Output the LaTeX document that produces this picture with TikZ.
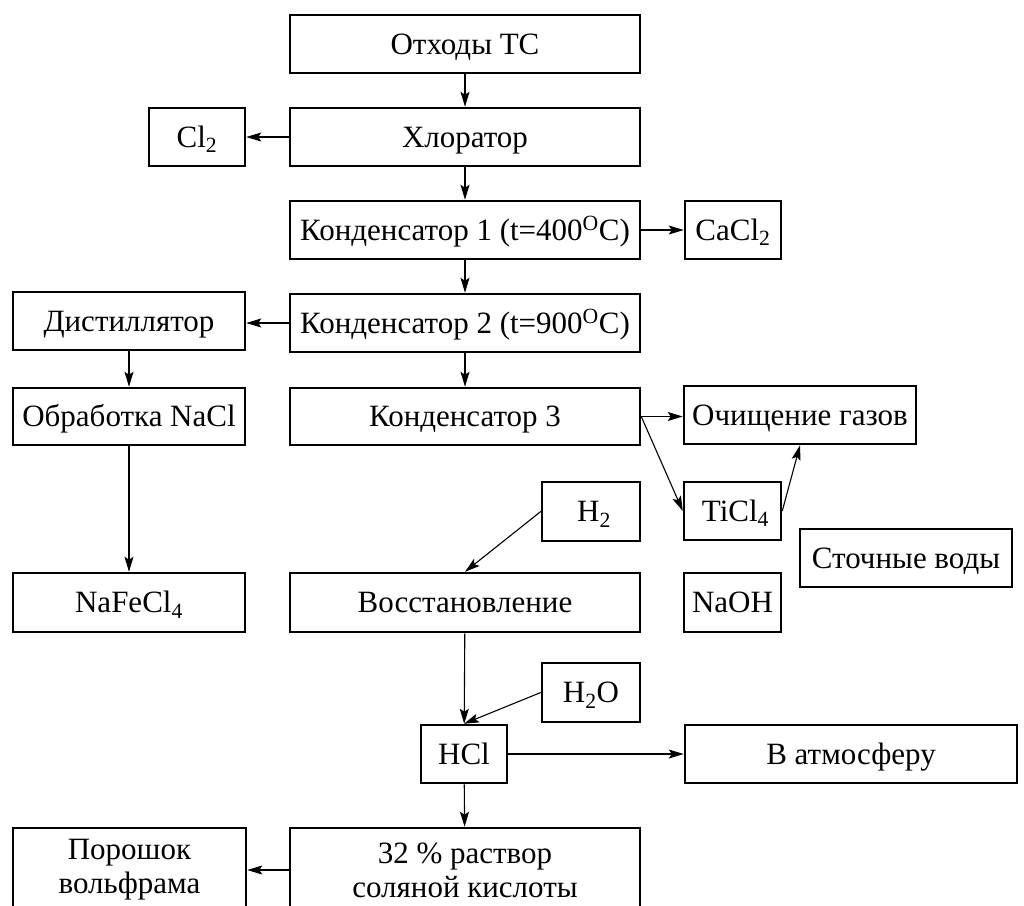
\documentclass[tikz,border=0pt]{standalone}
\usepackage{fontspec}
\setmainfont{Liberation Serif}
\usetikzlibrary{arrows.meta}
\begin{document}
\begin{tikzpicture}[x=1pt,y=-1pt,
  box/.style={draw, line width=2.5pt, inner sep=0pt, font=\fontsize{31}{34}\selectfont, align=center},
  one/.style={text height=20pt, text depth=0pt},
  arr/.style={-{Stealth[length=15pt,width=9pt,inset=3pt]}, line width=1.1pt}]
\useasboundingbox (0,0) rectangle (1024,905);
\node[box, one, minimum width=350, minimum height=58] (otx) at (465,44) {Отходы ТС};
\node[box, one, minimum width=350, minimum height=58] (chl) at (465,137) {Хлоратор};
\node[box, one, minimum width=96, minimum height=58] (cl2) at (197,137) {Cl\textsubscript{2}};
\node[box, one, minimum width=350, minimum height=58] (k1) at (465,230) {Конденсатор 1 (t=400\textsuperscript{O}C)};
\node[box, one, minimum width=96, minimum height=58] (cacl) at (733,230) {CaCl\textsubscript{2}};
\node[box, one, minimum width=350, minimum height=58] (k2) at (465,323) {Конденсатор 2 (t=900\textsuperscript{O}C)};
\node[box, one, minimum width=232, minimum height=58] (dist) at (129,321) {Дистиллятор};
\node[box, one, minimum width=350, minimum height=57] (k3) at (465,416.5) {Конденсатор 3};
\node[box, one, minimum width=232, minimum height=57] (obr) at (129,416.5) {Обработка NaCl};
\node[box, one, minimum width=232, minimum height=58] (och) at (800,415) {Очищение газов};
\node[box, one, minimum width=98, minimum height=59] (h2) at (591,511.5) {\hspace{6pt}H\textsubscript{2}};
\node[box, one, minimum width=97, minimum height=58] (ticl) at (732.5,511) {\hspace{6pt}TiCl\textsubscript{4}};
\node[box, one, minimum width=212, minimum height=58] (stoch) at (906,558) {Сточные воды};
\node[box, one, minimum width=232, minimum height=59] (nafe) at (129,602.5) {NaFeCl\textsubscript{4}};
\node[box, one, minimum width=350, minimum height=59] (vos) at (465,602.5) {Восстановление};
\node[box, one, minimum width=97, minimum height=59] (naoh) at (732.5,602.5) {NaOH};
\node[box, one, minimum width=98, minimum height=59] (h2o) at (591,692.5) {H\textsubscript{2}O};
\node[box, one, minimum width=86, minimum height=58] (hcl) at (464,754) {HCl};
\node[box, one, minimum width=332, minimum height=58] (atm) at (851,754) {В атмосферу};
\node[box, minimum width=350, minimum height=84] (r32) at (465,870) {32 \% раствор\\соляной кислоты};
\node[box, minimum width=233, minimum height=84] (por) at (129.5,870) {Порошок\\вольфрама};

\draw[arr] (otx) -- (chl);
\draw[arr] (chl) -- (cl2);
\draw[arr] (chl) -- (k1);
\draw[arr] (k1) -- (cacl);
\draw[arr] (k1) -- (k2);
\draw[arr] (k2) -- (k2 -| dist.east);
\draw[arr] (k2) -- (k3);
\draw[arr] (dist) -- (dist |- obr.north);
\draw[arr] (obr) -- (nafe);
\draw[arr] (k3.east) -- (k3.east -| och.west);
\draw[arr] (k3.east) -- (ticl.west);
\draw[arr] (ticl.east) -- (och.south);
\draw[arr] (h2.west) -- (vos.north);
\draw[arr] (vos) -- (hcl);
\draw[arr] (h2o.west) -- (hcl.north);
\draw[arr] (hcl) -- (atm);
\draw[arr] (hcl) -- (r32);
\draw[arr] (r32) -- (por);
\end{tikzpicture}
\end{document}
